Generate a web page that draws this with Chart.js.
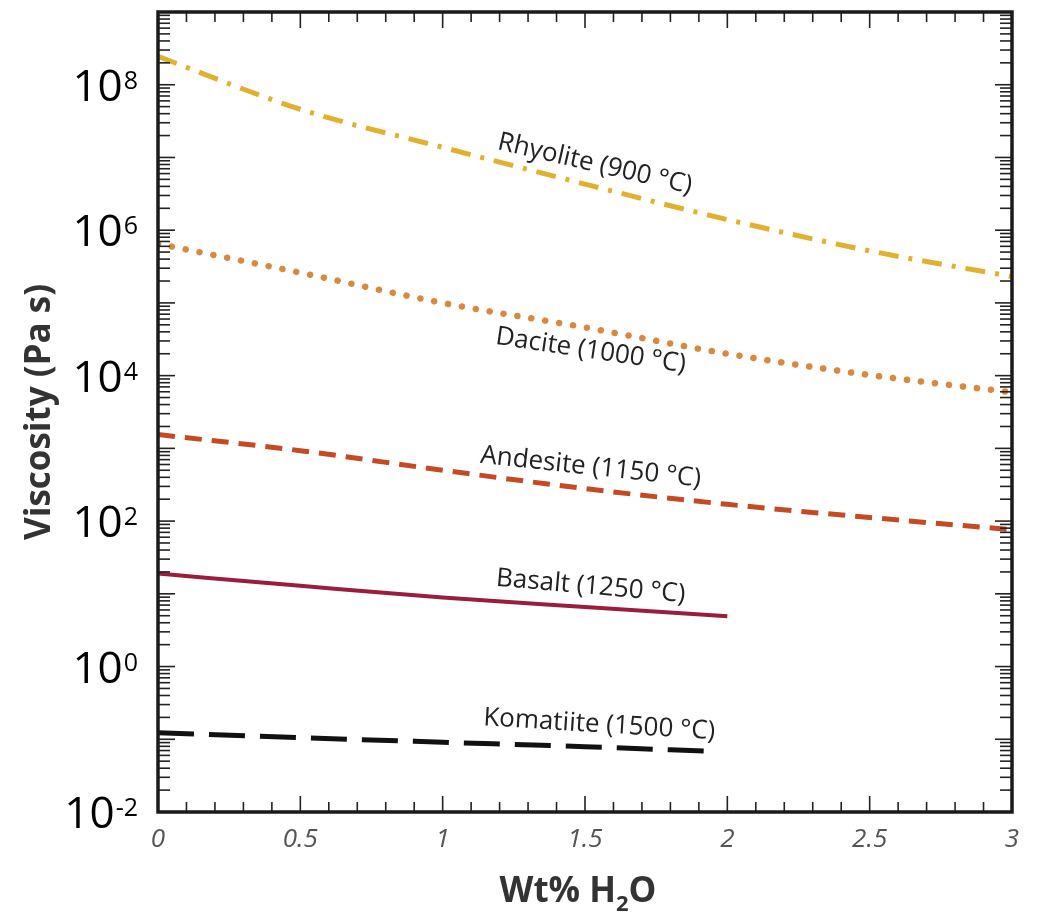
<!DOCTYPE html>
<html><head><meta charset="utf-8">
<script src="https://cdn.jsdelivr.net/npm/chart.js@4"></script>
<style>html,body{margin:0;padding:0;background:#fff;}#wrap{width:1041px;height:917px;position:relative;}</style>
</head><body><div id="wrap"><canvas id="c"></canvas></div>
<script>
// ---- data ----
const waterWt      = [0, 0.5, 1, 1.5, 2, 2.5, 3];
const rhyolite     = [2.45e8, 4.6e7, 1.38e7, 4.3e6, 1.4e6, 5.2e5, 2.3e5];
const dacite       = [6.5e5, 2.6e5, 1.0e5, 4.6e4, 2.0e4, 1.02e4, 5.9e3];
const andesite     = [1550, 930, 500, 280, 170, 112, 76];
const basaltWt     = [0, 0.5, 1, 1.5, 2];
const basalt       = [19, 12.9, 8.9, 6.6, 4.9];
const komatiiteWt  = [0, 0.5, 1, 1.5, 1.95];
const komatiite    = [0.123, 0.105, 0.091, 0.079, 0.068];
const seriesNames  = ['Rhyolite (900 °C)', 'Dacite (1000 °C)', 'Andesite (1150 °C)', 'Basalt (1250 °C)', 'Komatiite (1500 °C)'];
const xTickValues  = [0, 0.5, 1, 1.5, 2, 2.5, 3];
const xTickLabels  = ['0', '0.5', '1', '1.5', '2', '2.5', '3'];
const yTickExponents = [8, 6, 4, 2, 0, -2];
const xTitle = ['Wt% H', '2', 'O'];
const yTitle = 'Viscosity (Pa s)';

// ---- label placement (data coords) & styles ----
const labelPlacement = [
  {x: 1.535, y: 8.1e6, angle: 13},
  {x: 1.52,  y: 2.2e4, angle: 8.5},
  {x: 1.52,  y: 550,   angle: 6.2},
  {x: 1.52,  y: 12.6,  angle: 5},
  {x: 1.55,  y: 0.158, angle: 3.5}
];

const pts = (xs, ys) => xs.map((v, i) => ({x: v, y: ys[i]}));

const styles = [
  {color: '#E0B02E', width: 5, dash: [20, 10, 4, 10], cap: 'butt'},
  {color: '#D8893F', width: 6.5, dash: [0.1, 14], cap: 'round'},
  {color: '#C54A24', width: 5, dash: [17, 10], cap: 'butt'},
  {color: '#9B1D3E', width: 4, dash: [], cap: 'butt'},
  {color: '#111111', width: 5, dash: [36, 15], cap: 'butt'}
];
const seriesData = [pts(waterWt, rhyolite), pts(waterWt, dacite), pts(waterWt, andesite), pts(basaltWt, basalt), pts(komatiiteWt, komatiite)];

const datasets = seriesData.map((d, i) => ({
  label: seriesNames[i], data: d,
  borderColor: styles[i].color, borderWidth: styles[i].width,
  borderDash: styles[i].dash, borderCapStyle: styles[i].cap,
  pointRadius: 0, tension: 0.3, cubicInterpolationMode: 'monotone', fill: false
}));

const axesPlugin = {
  id: 'axesPlugin',
  afterDatasetsDraw(chart) {
    const {ctx, chartArea: a, scales: {x, y}} = chart;
    ctx.save();
    ctx.strokeStyle = '#222';
    ctx.lineWidth = 1.6;
    const seg = (x1, y1, x2, y2) => { ctx.beginPath(); ctx.moveTo(x1, y1); ctx.lineTo(x2, y2); ctx.stroke(); };
    for (let e = -2; e <= 9; e++) {
      for (let m = 1; m < 10; m++) {
        const v = m * Math.pow(10, e);
        if (v > 1e9 * 1.0001) break;
        const py = y.getPixelForValue(v);
        const len = m === 1 ? 17 : 12;
        seg(a.left, py, a.left + len, py);
        seg(a.right, py, a.right - len, py);
      }
    }
    for (let i = 0; i <= 30; i++) {
      const px = x.getPixelForValue(i / 10);
      const len = i % 5 === 0 ? 16 : 10;
      seg(px, a.bottom, px, a.bottom - len);
      seg(px, a.top, px, a.top + len);
    }
    ctx.lineWidth = 3.5;
    ctx.strokeStyle = '#1a1a1a';
    ctx.strokeRect(a.left, a.top, a.right - a.left, a.bottom - a.top);
    ctx.restore();
  },
  afterDraw(chart) {
    const {ctx, chartArea: a, scales: {x, y}} = chart;
    ctx.save();
    // x tick labels
    ctx.fillStyle = '#555';
    ctx.font = 'italic 26px "Open Sans"';
    ctx.textAlign = 'center';
    ctx.textBaseline = 'middle';
    xTickValues.forEach((v, i) => ctx.fillText(xTickLabels[i], x.getPixelForValue(v), a.bottom + 28));
    // y tick labels with superscripts
    ctx.fillStyle = '#000';
    yTickExponents.forEach(e => {
      const py = y.getPixelForValue(Math.pow(10, e));
      const base = '10', ex = String(e);
      ctx.font = '44px "Open Sans"';
      const bw = ctx.measureText(base).width;
      ctx.font = '25px "Open Sans"';
      const ew = ctx.measureText(ex).width;
      const right = a.left - 20;
      const left = right - ew - bw - 1;
      ctx.textAlign = 'left';
      ctx.textBaseline = 'alphabetic';
      ctx.font = '44px "Open Sans"';
      ctx.fillText(base, left, py + 16);
      ctx.font = '25px "Open Sans"';
      ctx.fillText(ex, left + bw + 1, py + 4);
    });
    // y title
    ctx.fillStyle = '#333';
    ctx.font = 'bold 35px "Open Sans"';
    ctx.textAlign = 'center';
    ctx.textBaseline = 'middle';
    ctx.save();
    ctx.translate(40, (a.top + a.bottom) / 2);
    ctx.rotate(-Math.PI / 2);
    ctx.fillText(yTitle, 0, 0);
    ctx.restore();
    // x title with subscript
    ctx.textAlign = 'left';
    ctx.textBaseline = 'alphabetic';
    ctx.font = 'bold 35px "Open Sans"';
    const w1 = ctx.measureText(xTitle[0]).width, w3 = ctx.measureText(xTitle[2]).width;
    ctx.font = 'bold 22px "Open Sans"';
    const w2 = ctx.measureText(xTitle[1]).width;
    let sx = (a.left + a.right) / 2 - 7 - (w1 + w2 + w3) / 2;
    const by = a.bottom + 90;
    ctx.font = 'bold 35px "Open Sans"';
    ctx.fillText(xTitle[0], sx, by);
    ctx.font = 'bold 22px "Open Sans"';
    ctx.fillText(xTitle[1], sx + w1, by + 9);
    ctx.font = 'bold 35px "Open Sans"';
    ctx.fillText(xTitle[2], sx + w1 + w2, by);
    // series labels
    ctx.fillStyle = '#222';
    ctx.font = '26px "Open Sans"';
    ctx.textAlign = 'center';
    ctx.textBaseline = 'middle';
    labelPlacement.forEach((p, i) => {
      ctx.save();
      ctx.translate(x.getPixelForValue(p.x), y.getPixelForValue(p.y));
      ctx.rotate(p.angle * Math.PI / 180);
      ctx.fillText(seriesNames[i], 0, 0);
      ctx.restore();
    });
    ctx.restore();
  }
};

new Chart(document.getElementById('c'), {
  type: 'line',
  data: {datasets},
  options: {
    responsive: true, maintainAspectRatio: false, animation: false,
    layout: {padding: {left: 158, right: 29, top: 12, bottom: 105}},
    plugins: {legend: {display: false}, tooltip: {enabled: false}},
    scales: {
      x: {type: 'linear', min: 0, max: 3,
          ticks: {display: false}, grid: {display: false}, border: {display: false},
          afterFit: s => { s.height = 0; }},
      y: {type: 'logarithmic', min: 0.01, max: 1e9,
          ticks: {display: false}, grid: {display: false}, border: {display: false},
          afterFit: s => { s.width = 0; }}
    }
  },
  plugins: [axesPlugin]
});
</script>
</body></html>
